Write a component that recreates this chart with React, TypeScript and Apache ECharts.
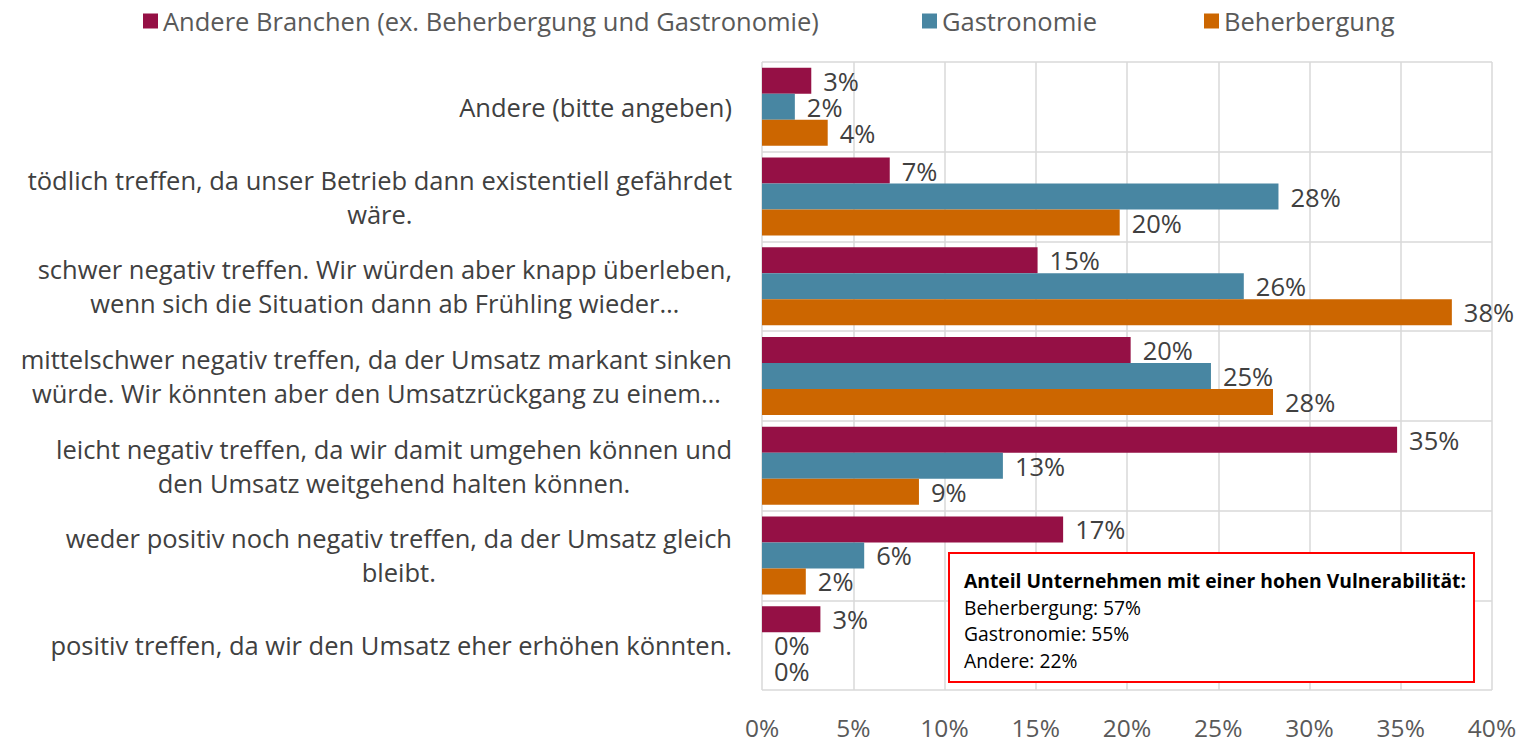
import React, { useEffect, useRef } from "react";
import * as echarts from "echarts";

const categories = [
  "Andere (bitte angeben)",
  "tödlich treffen, da unser Betrieb dann existentiell gefährdet\nwäre.",
  "schwer negativ treffen. Wir würden aber knapp überleben,\nwenn sich die Situation dann ab Frühling wieder…",
  "mittelschwer negativ treffen, da der Umsatz markant sinken\nwürde. Wir könnten aber den Umsatzrückgang zu einem…",
  "leicht negativ treffen, da wir damit umgehen können und\nden Umsatz weitgehend halten können.",
  "weder positiv noch negativ treffen, da der Umsatz gleich\nbleibt.",
  "positiv treffen, da wir den Umsatz eher erhöhen könnten.",
];

const seriesNames = [
  "Andere Branchen (ex. Beherbergung und Gastronomie)",
  "Gastronomie",
  "Beherbergung",
];
const seriesColors = ["#951045", "#4886A2", "#CC6600"];

const andereValues = [2.7, 7.0, 15.1, 20.2, 34.8, 16.5, 3.2];
const gastroValues = [1.8, 28.3, 26.4, 24.6, 13.2, 5.6, 0];
const beherValues = [3.6, 19.6, 37.8, 28.0, 8.6, 2.4, 0];

const noteTitle = "Anteil Unternehmen mit einer hohen Vulnerabilität:";
const noteLines = ["Beherbergung: 57%", "Gastronomie: 55%", "Andere: 22%"];

const FONT = "'Open Sans', 'Noto Sans', sans-serif";
const TEXT = "#404040";

export default function App() {
  const ref = useRef<HTMLDivElement>(null);
  useEffect(() => {
    if (!ref.current) return;
    const chart = echarts.init(ref.current, null, { renderer: "svg" });
    const values = [andereValues, gastroValues, beherValues];
    const legendLefts = [138, 917, 1199];
    chart.setOption({
      animation: false,
      backgroundColor: "#ffffff",
      textStyle: { fontFamily: FONT },
      legend: seriesNames.map((n, i) => ({
        data: [n],
        left: legendLefts[i],
        top: 3,
        icon: "rect",
        itemWidth: 15,
        itemHeight: 15,
        selectedMode: false,
        textStyle: { fontSize: 25.5, color: "#595959", fontFamily: FONT },
      })),
      grid: { left: 762, right: 38, top: 62, bottom: 52 },
      xAxis: {
        type: "value",
        min: 0,
        max: 40,
        interval: 5,
        axisLine: { show: false },
        axisTick: { show: false },
        axisLabel: {
          formatter: "{value}%",
          fontSize: 24.5,
          lineHeight: 24,
          color: "#595959",
          margin: 25,
          fontFamily: FONT,
        },
        splitLine: { lineStyle: { color: "#d9d9d9", width: 1.5 } },
      },
      yAxis: {
        type: "category",
        inverse: true,
        data: categories,
        axisLine: { show: false },
        axisTick: { show: false },
        splitLine: { show: true, lineStyle: { color: "#d9d9d9", width: 1.5 } },
        axisLabel: {
          align: "right",
          margin: 30,
          formatter: (v: string) =>
            v
              .split("\n")
              .map((l) => `{c|${l}}`)
              .join("\n"),
          rich: {
            c: {
              align: "center",
              fontSize: 25.5,
              lineHeight: 34,
              color: TEXT,
              fontFamily: FONT,
            },
          },
        },
      },
      series: seriesNames.map((n, i) => ({
        name: n,
        type: "bar",
        data: values[i],
        barWidth: 26,
        barGap: "0%",
        itemStyle: { color: seriesColors[i] },
        label: {
          show: true,
          position: "right",
          distance: 12,
          fontSize: 25.5,
          lineHeight: 24,
          color: TEXT,
          fontFamily: FONT,
          formatter: (p: any) => `${Math.round(p.value)}%`,
        },
      })),
      graphic: [
        {
          type: "rect",
          z: 100,
          shape: { x: 949, y: 553, width: 525, height: 129 },
          style: { fill: "#ffffff", stroke: "#ff0000", lineWidth: 2 },
        },
        {
          type: "text",
          z: 101,
          x: 964,
          y: 580,
          style: {
            text: noteTitle,
            font: `bold 19.3px ${FONT}`,
            fill: "#000000",
            textVerticalAlign: "middle",
          },
        },
        ...noteLines.map((t, i) => ({
          type: "text",
          z: 101,
          x: 964,
          y: 607 + i * 26.5,
          style: {
            text: t,
            font: `19.3px ${FONT}`,
            fill: "#000000",
            textVerticalAlign: "middle",
          },
        })),
      ],
    });
    return () => chart.dispose();
  }, []);
  return (
    <div
      ref={ref}
      style={{ position: "fixed", left: 0, top: 0, width: 1530, height: 742 }}
    />
  );
}
